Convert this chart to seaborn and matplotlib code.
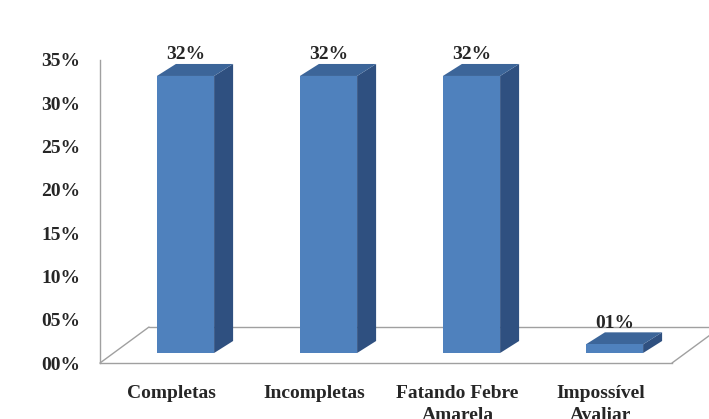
import matplotlib
matplotlib.use("Agg")
import matplotlib.pyplot as plt
from matplotlib.patches import Polygon
from matplotlib.lines import Line2D
from matplotlib.transforms import ScaledTranslation, IdentityTransform
from matplotlib.ticker import FixedLocator
import seaborn as sns
import pandas as pd

# Chart data
categories = ["Completas", "Incompletas", "Fatando Febre\nAmarela", "Impossível\nAvaliar"]
values = [32, 32, 32, 1]
y_ticks = [0, 5, 10, 15, 20, 25, 30, 35]

# Colours
FRONT = "#4F81BD"
SIDE = "#2F5080"
TOP = "#3C6599"
WALL = "#A0A0A0"
FS = 14

sns.set_style("white")
plt.rcParams["font.family"] = ["Liberation Serif", "DejaVu Serif"]
plt.rcParams["font.weight"] = "bold"

DPI = 100
W, H = 709, 419
fig = plt.figure(figsize=(W / DPI, H / DPI), dpi=DPI)
ax = fig.add_axes([100 / W, (H - 363) / H, 572 / W, 303 / H])

df = pd.DataFrame({"cat": categories, "val": values})
sns.barplot(data=df, x="cat", y="val", color=FRONT, width=0.4,
            saturation=1, ax=ax, zorder=4)
ax.set_xlim(-0.5, len(categories) - 0.5)
ax.set_ylim(y_ticks[0], y_ticks[-1])

# pseudo-3D depth offsets (pixels): bar front plane, bar back plane, floor back edge
BAR_FRONT = (14, 10)
BAR_BACK = (33, 22)
FLOOR_BACK = (49, 36)


def proj(x, y, depth):
    px, py = ax.transData.transform((x, y))
    return (px + depth[0], py + depth[1])


# floor
x0, x1 = -0.5, len(categories) - 0.5
floor_segments = [
    (proj(x0, 0, (0, 0)), proj(x0, 0, FLOOR_BACK)),
    (proj(x0, 0, FLOOR_BACK), proj(x1, 0, FLOOR_BACK)),
    (proj(x1, 0, (0, 0)), proj(x1, 0, FLOOR_BACK)),
]
for a, b in floor_segments:
    fig.add_artist(Line2D([a[0], b[0]], [a[1], b[1]], color=WALL, lw=1.0,
                          transform=IdentityTransform(), zorder=1))

shift = ScaledTranslation(BAR_FRONT[0] / DPI, BAR_FRONT[1] / DPI, fig.dpi_scale_trans)
for patch, v in zip(list(ax.patches), values):
    bx, by = patch.get_x(), patch.get_y()
    bw, bh = patch.get_width(), patch.get_height()
    patch.set_transform(ax.transData + shift)
    patch.set_clip_on(False)
    patch.set_edgecolor("none")
    side = [proj(bx + bw, by, BAR_FRONT), proj(bx + bw, by, BAR_BACK),
            proj(bx + bw, by + bh, BAR_BACK), proj(bx + bw, by + bh, BAR_FRONT)]
    top = [proj(bx, by + bh, BAR_FRONT), proj(bx + bw, by + bh, BAR_FRONT),
           proj(bx + bw, by + bh, BAR_BACK), proj(bx, by + bh, BAR_BACK)]
    fig.add_artist(Polygon(side, closed=True, facecolor=SIDE, edgecolor="none",
                           transform=IdentityTransform(), zorder=2))
    fig.add_artist(Polygon(top, closed=True, facecolor=TOP, edgecolor="none",
                           transform=IdentityTransform(), zorder=2))
    ax.annotate(f"{v:02d}%", xy=(bx + bw / 2, by + bh), xycoords="data",
                xytext=(BAR_FRONT[0] * 72 / DPI, (BAR_FRONT[1] + 21) * 72 / DPI),
                textcoords="offset points", ha="center", va="center",
                fontsize=FS, fontweight="bold", zorder=6, annotation_clip=False)

# axes styling
for s in ("top", "right"):
    ax.spines[s].set_visible(False)
for s in ("left", "bottom"):
    ax.spines[s].set_color(WALL)
    ax.spines[s].set_linewidth(1.0)
ax.patch.set_alpha(0)
ax.set_zorder(3)

ax.set_yticks(y_ticks)
ax.set_yticklabels([f"{t:02d}%" for t in y_ticks])
ax.tick_params(axis="y", length=3, width=1, color=WALL, pad=11, labelsize=FS)

ax.set_xticks(range(len(categories)))
ax.set_xticklabels(categories, linespacing=1.4)
ax.xaxis.set_minor_locator(FixedLocator([i - 0.5 for i in range(len(categories) + 1)]))
ax.tick_params(axis="x", which="major", length=0, pad=15.5, labelsize=FS)
ax.tick_params(axis="x", which="minor", length=5, width=1, color=WALL)
ax.set_xlabel("")
ax.set_ylabel("")
for lab in ax.get_xticklabels() + ax.get_yticklabels():
    lab.set_fontweight("bold")

fig.savefig("out.png", dpi=DPI)
